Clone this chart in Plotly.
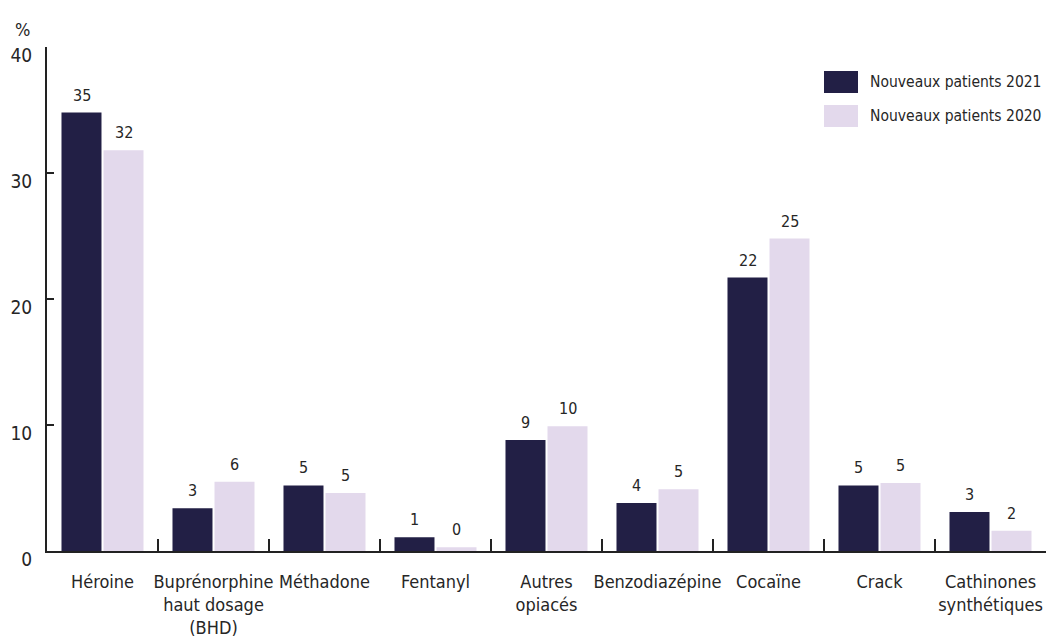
import plotly.graph_objects as go

categories = ["Héroine", "Buprénorphine<br>haut dosage<br>(BHD)", "Méthadone", "Fentanyl",
              "Autres<br>opiacés", "Benzodiazépine", "Cocaïne", "Crack", "Cathinones<br>synthétiques"]
series_names = ["Nouveaux patients 2021", "Nouveaux patients 2020"]
values_2021 = [34.8, 3.4, 5.2, 1.1, 8.8, 3.8, 21.7, 5.2, 3.1]
values_2020 = [31.8, 5.5, 4.6, 0.3, 9.9, 4.9, 24.8, 5.4, 1.6]
labels_2021 = ["35", "3", "5", "1", "9", "4", "22", "5", "3"]
labels_2020 = ["32", "6", "5", "0", "10", "5", "25", "5", "2"]
y_ticks = [0, 10, 20, 30, 40]

DARK = "#221f45"
LIGHT = "#e3d9ec"
TXT = "#262626"
FONT = "DejaVu Sans Condensed, Liberation Sans Narrow, Roboto Condensed, Arial Narrow, sans-serif"

W, H = 1047, 641
ML, MR, MT, MB = 47, 1, 47, 90
pw, ph = W - ML - MR, H - MT - MB


def px_to_paper(x, y):
    return (x - ML) / pw, (H - MB - y) / ph


fig = go.Figure()
fig.add_trace(go.Bar(x=categories, y=values_2021, name=series_names[0],
                     marker=dict(color=DARK, line=dict(width=0)), showlegend=False))
fig.add_trace(go.Bar(x=categories, y=values_2020, name=series_names[1],
                     marker=dict(color=LIGHT, line=dict(width=0)), showlegend=False))

annotations = []
for cat, v, lab in zip(categories, values_2021, labels_2021):
    annotations.append(dict(x=cat, y=v, text=lab, showarrow=False, xref="x", yref="y",
                            xanchor="center", yanchor="bottom", xshift=-21, yshift=6,
                            font=dict(family=FONT, size=16, color=TXT)))
for cat, v, lab in zip(categories, values_2020, labels_2020):
    annotations.append(dict(x=cat, y=v, text=lab, showarrow=False, xref="x", yref="y",
                            xanchor="center", yanchor="bottom", xshift=21, yshift=6,
                            font=dict(family=FONT, size=16, color=TXT)))

# "%" unit label
px_, py_ = px_to_paper(22, 30)
annotations.append(dict(x=px_, y=py_, xref="paper", yref="paper", text="%", showarrow=False,
                        xanchor="center", yanchor="middle",
                        font=dict(family=FONT, size=18, color=TXT)))

# manual legend (large swatches as in the reference)
shapes = []
leg_colors = [DARK, LIGHT]
for i, (name, col) in enumerate(zip(series_names, leg_colors)):
    top = 71 + i * 34
    x0, y0 = px_to_paper(824, top + 22)
    x1, y1 = px_to_paper(858, top)
    shapes.append(dict(type="rect", xref="paper", yref="paper", x0=x0, x1=x1, y0=y0, y1=y1,
                       fillcolor=col, line=dict(width=0)))
    tx, ty = px_to_paper(868, top + 11)
    annotations.append(dict(x=tx, y=ty, xref="paper", yref="paper", text=name, showarrow=False,
                            xanchor="left", yanchor="middle",
                            font=dict(family=FONT, size=15.5, color=TXT)))

fig.update_layout(
    width=W, height=H,
    margin=dict(l=ML, r=MR, t=MT, b=MB, autoexpand=False),
    paper_bgcolor="white", plot_bgcolor="white",
    barmode="group", bargap=0.243, bargroupgap=0.048,
    font=dict(family=FONT, color=TXT),
    annotations=annotations, shapes=shapes,
    showlegend=False,
)
fig.update_xaxes(
    showline=True, linecolor="#222222", linewidth=2,
    ticks="inside", tickson="boundaries", ticklen=12, tickwidth=2, tickcolor="#222222",
    showgrid=False, zeroline=False,
    tickfont=dict(family=FONT, size=18, color=TXT), tickangle=0,
    ticklabelstandoff=13,
)
fig.update_yaxes(
    range=[0, 40], tickvals=y_ticks,
    showline=True, linecolor="#222222", linewidth=2,
    ticks="inside", ticklen=7, tickwidth=2, tickcolor="#222222",
    showgrid=False, zeroline=False,
    tickfont=dict(family=FONT, size=19, color=TXT),
    ticklabelshift=8, ticklabelstandoff=9,
)

fig.write_html("out.html", config={"displayModeBar": False},
               post_script="document.body.style.margin='0px';document.body.style.overflow='hidden';")
